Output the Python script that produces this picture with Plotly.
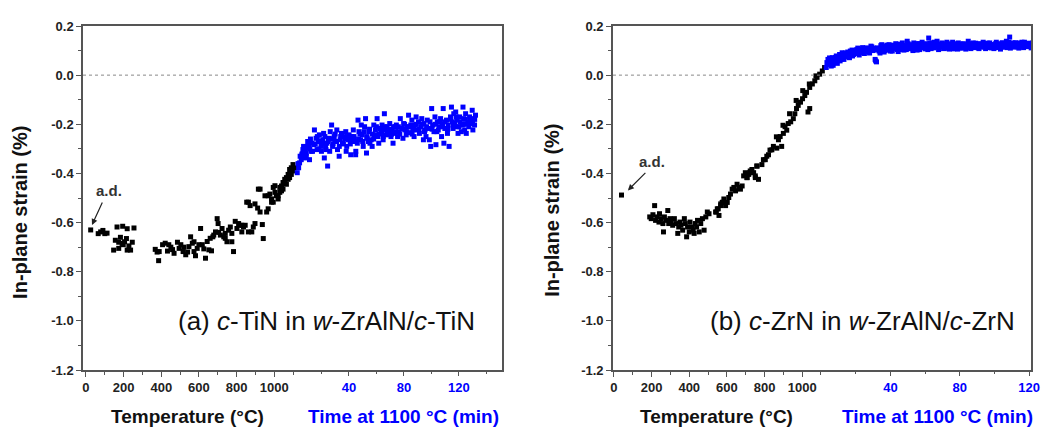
import plotly.graph_objects as go

# ---------------- data ----------------
# Panel (a): c-TiN in w-ZrAlN/c-TiN
a_temp_T = [25, 65, 78, 90, 100, 112,
            147, 156, 165, 174, 174, 183, 192, 195, 198, 205, 215, 219, 219, 228, 237, 246, 255,
            368, 378, 386, 389, 407, 421, 433, 440, 451, 460, 468, 486, 495, 504, 516, 520, 530, 540,
            547, 556, 565, 574, 574, 582, 591, 600, 609, 618, 626, 635, 644, 653, 660, 667, 674, 679,
            688, 697, 702, 705, 714, 723, 732, 740, 740, 749, 758, 767, 775, 775, 784, 793, 802, 811,
            819, 828, 828, 837, 846, 854, 863, 863, 872, 881, 889, 898, 898, 912, 916, 925, 925, 937,
            942, 951, 960, 968, 968, 977, 986, 986, 995, 995, 1004, 1004, 1012, 1021, 1021, 1030, 1030,
            1039, 1039, 1047, 1047, 1056, 1056, 1065, 1065, 1074, 1074, 1082, 1082, 1091, 1091, 1100,
            1100, 1109]
a_temp_S = [-0.630, -0.645, -0.638, -0.632, -0.645, -0.643,
            -0.712, -0.672, -0.618, -0.680, -0.705, -0.660, -0.685, -0.615, -0.690, -0.678, -0.665, -0.712, -0.625, -0.695, -0.712, -0.680, -0.622,
            -0.709, -0.720, -0.755, -0.718, -0.690, -0.684, -0.716, -0.690, -0.700, -0.710, -0.725, -0.680, -0.705, -0.690, -0.718, -0.700, -0.731, -0.720,
            -0.698, -0.658, -0.684, -0.718, -0.678, -0.735, -0.705, -0.690, -0.624, -0.690, -0.707, -0.745, -0.677, -0.711, -0.664, -0.715, -0.658, -0.651,
            -0.638, -0.584, -0.604, -0.640, -0.651, -0.624, -0.658, -0.644, -0.664, -0.678, -0.631, -0.618, -0.644, -0.678, -0.718, -0.595, -0.624, -0.604,
            -0.611, -0.638, -0.611, -0.618, -0.611, -0.517, -0.638, -0.517, -0.531, -0.638, -0.618, -0.604, -0.524, -0.541, -0.464, -0.557, -0.464, -0.608,
            -0.665, -0.491, -0.557, -0.544, -0.491, -0.484, -0.504, -0.517, -0.517, -0.457, -0.450, -0.477, -0.491, -0.504, -0.491, -0.457, -0.477,
            -0.471, -0.451, -0.437, -0.464, -0.424, -0.437, -0.417, -0.444, -0.404, -0.424, -0.384, -0.417, -0.377, -0.404, -0.364,
            -0.390, -0.377]

a_time_t = [2.4, 3.4, 4.1, 5.3, 5.8, 6.5, 7.7, 8.9, 9.6, 10.6, 11.3, 12.5, 13.0, 14.4, 14.9, 16.1, 16.8, 17.8,
            18.5, 19.7, 20.9, 21.6, 22.1, 23.3, 24.0, 24.5, 25.7, 26.4, 27.4, 28.1, 29.3, 29.8, 31.2, 31.7,
            32.9, 33.6, 34.6, 35.3, 36.5, 37.7, 38.4, 39.4, 40.1, 41.3, 42.5, 43.2, 43.7, 44.9, 46.1, 46.6,
            47.3, 48.5, 49.0, 49.7, 50.4, 51.4, 52.1, 52.8, 53.3, 54.5, 55.3, 56.2, 56.9, 58.1, 58.6, 59.3,
            60.5, 61.0, 61.7, 62.9, 63.7, 64.1, 64.9, 65.8, 66.5, 67.3, 67.7, 69.0, 69.7, 70.6, 71.3, 72.1,
            73.0, 73.8, 74.5, 75.4, 76.2, 77.4, 78.6, 79.3, 79.8, 81.0, 81.7, 82.6, 83.4, 84.1, 85.0, 85.8,
            86.5, 87.4, 88.2, 88.9, 89.8, 90.6, 91.3, 92.3, 93.0, 94.2, 94.6, 95.4, 96.1, 97.0, 97.8, 98.5,
            99.5, 100.2, 100.9, 101.9, 102.6, 103.3, 104.3, 105.0, 105.7, 106.7, 107.4, 108.1, 108.6, 109.1,
            109.8, 111.0, 111.7, 112.2, 112.9, 113.9, 114.6, 115.3, 115.8, 116.3, 117.0, 117.7, 118.7, 119.4,
            120.1, 120.6, 121.8, 122.5, 123.0, 123.5, 124.2, 124.9, 125.4, 126.6, 127.3, 127.8, 129.0, 129.7,
            130.2, 130.7, 131.4, 132.1,
            3.0, 4.5, 6.0, 7.0, 8.0, 9.0, 10.0, 11.5, 12.0, 13.5, 15.5, 17.0, 18.0, 19.0, 20.0, 21.0, 22.5,
            23.0, 25.0, 26.0, 27.0, 28.5, 30.0, 31.0, 33.0, 34.0, 36.0, 37.0, 38.0, 39.0, 41.0, 42.0, 44.0,
            45.0, 47.0, 48.0, 50.0, 51.0, 53.0, 54.0, 55.0, 57.0, 58.0, 60.0, 62.0, 63.0, 65.0, 66.0, 68.0,
            70.0, 71.0, 72.5, 74.0, 76.0, 77.0, 79.0, 80.5, 82.0, 84.0, 86.0, 87.0, 89.0, 91.0, 93.0, 95.0,
            96.5, 99.0, 100.5, 103.0, 104.0, 106.0, 108.0, 110.0, 112.0, 114.0, 116.0, 118.0, 119.0, 121.0,
            123.0, 124.5, 126.0, 128.0, 130.0, 131.5]
a_time_S = [-0.397, -0.377, -0.357, -0.344, -0.324, -0.303, -0.337, -0.317, -0.297, -0.290, -0.344, -0.310, -0.277, -0.283, -0.223, -0.257, -0.303, -0.270,
            -0.243, -0.290, -0.263, -0.237, -0.337, -0.303, -0.277, -0.370, -0.257, -0.230, -0.203, -0.290, -0.250, -0.270, -0.223, -0.303,
            -0.330, -0.263, -0.237, -0.277, -0.250, -0.230, -0.290, -0.263, -0.243, -0.324, -0.270, -0.223, -0.250, -0.324, -0.277, -0.183,
            -0.230, -0.263, -0.203, -0.243, -0.290, -0.210, -0.177, -0.317, -0.257, -0.230, -0.277, -0.263, -0.290, -0.203, -0.243, -0.223,
            -0.177, -0.250, -0.277, -0.217, -0.237, -0.203, -0.263, -0.157, -0.223, -0.243, -0.210, -0.230, -0.197, -0.250, -0.221, -0.277,
            -0.237, -0.210, -0.203, -0.250, -0.230, -0.177, -0.217, -0.257, -0.197, -0.223, -0.243, -0.210, -0.163, -0.234, -0.203, -0.183,
            -0.223, -0.250, -0.203, -0.170, -0.223, -0.190, -0.237, -0.210, -0.177, -0.263, -0.197, -0.223, -0.250, -0.183, -0.217, -0.263,
            -0.290, -0.136, -0.203, -0.230, -0.170, -0.283, -0.190, -0.223, -0.210, -0.177, -0.250, -0.197, -0.136, -0.277,
            -0.217, -0.183, -0.237, -0.203, -0.290, -0.170, -0.130, -0.190, -0.217, -0.157, -0.197, -0.150, -0.183, -0.237,
            -0.210, -0.170, -0.230, -0.203, -0.130, -0.177, -0.223, -0.157, -0.237, -0.190, -0.210, -0.170, -0.197, -0.143,
            -0.223, -0.177, -0.203, -0.163,
            -0.36, -0.33, -0.32, -0.29, -0.31, -0.33, -0.27, -0.30, -0.26, -0.31, -0.28, -0.25, -0.30, -0.27, -0.31, -0.28, -0.25,
            -0.29, -0.27, -0.31, -0.26, -0.28, -0.24, -0.27, -0.29, -0.25, -0.28, -0.26, -0.31, -0.25, -0.28, -0.25, -0.27,
            -0.31, -0.26, -0.24, -0.27, -0.23, -0.25, -0.27, -0.22, -0.24, -0.26, -0.21, -0.24, -0.22, -0.25, -0.21, -0.24,
            -0.22, -0.24, -0.21, -0.23, -0.21, -0.24, -0.22, -0.20, -0.23, -0.21, -0.24, -0.21, -0.20, -0.22, -0.20, -0.23,
            -0.21, -0.19, -0.22, -0.20, -0.23, -0.19, -0.21, -0.19, -0.22, -0.18, -0.20, -0.17, -0.21, -0.19,
            -0.20, -0.18, -0.20, -0.18, -0.19, -0.18]

# Panel (b): c-ZrN in w-ZrAlN/c-ZrN
b_temp_T = [40,
            190, 198, 207, 216, 221, 228, 239, 242, 251, 260, 263, 268, 277, 286, 291, 298, 304, 312, 321,
            330, 339, 344, 351, 356, 365, 374, 379, 386, 391, 400, 404, 414, 421, 426, 432, 439, 444, 453,
            461, 470, 479, 488, 496, 505,
            540, 544, 549, 554, 558, 567, 567, 575, 579, 584, 593, 602, 610, 619, 628, 637, 646, 654, 663,
            672, 681, 689, 698, 707, 707, 716, 721, 724, 733, 742, 751, 751, 759, 760, 768, 786, 794, 804,
            812, 821, 829, 839, 847, 863, 865, 874, 883, 891, 898, 900, 909, 918, 926, 933, 939, 953, 961,
            968, 970, 979, 991, 1002, 1003, 1014, 1023, 1031, 1038, 1040, 1040, 1054, 1067, 1073, 1079,
            1093, 1107, 1119]
b_temp_S = [-0.488,
            -0.577, -0.584, -0.568, -0.531, -0.591, -0.577, -0.598, -0.564, -0.584, -0.604, -0.638, -0.577, -0.591, -0.551, -0.604, -0.584, -0.598, -0.611, -0.584,
            -0.604, -0.644, -0.618, -0.598, -0.611, -0.631, -0.584, -0.604, -0.658, -0.618, -0.638, -0.598, -0.618, -0.631, -0.644, -0.604, -0.618, -0.591, -0.638,
            -0.604, -0.584, -0.631, -0.577, -0.557, -0.564,
            -0.557, -0.557, -0.544, -0.544, -0.571, -0.524, -0.531, -0.518, -0.517, -0.504, -0.531, -0.518, -0.498, -0.484, -0.464, -0.457, -0.471, -0.444, -0.457,
            -0.464, -0.451, -0.410, -0.397, -0.417, -0.417, -0.404, -0.397, -0.390, -0.384, -0.397, -0.410, -0.417, -0.370, -0.370, -0.424, -0.364, -0.344, -0.344,
            -0.330, -0.324, -0.305, -0.304, -0.290, -0.251, -0.297, -0.263, -0.250, -0.290, -0.204, -0.237, -0.210, -0.224, -0.197, -0.157, -0.190, -0.177, -0.157,
            -0.103, -0.136, -0.123, -0.110, -0.096, -0.063, -0.083, -0.070, -0.150, -0.036, -0.050, -0.136, -0.036, -0.023, -0.003, -0.009,
            0.004, 0.017, 0.031]

b_time_t = [3.0, 3.4, 4.0, 4.6, 5.3, 5.9, 6.5, 7.2, 7.8, 8.8, 9.1, 9.7, 10.7, 11.6, 12.2, 12.9, 13.5, 14.5,
            15.4, 16.4, 17.3, 17.9, 18.7, 19.8, 20.6, 21.7, 22.5, 23.6, 24.4, 25.5, 26.3, 27.4, 28.2, 29.3,
            30.7, 31.2, 32.0, 32.6, 33.5, 34.5, 35.4, 36.4, 37.3, 38.3, 39.2, 40.2, 41.1, 42.1, 43.1, 44.0,
            44.9, 45.9, 46.9, 47.8, 48.8, 49.7, 50.7, 51.6, 52.6, 53.5, 54.5, 55.4, 56.4, 57.3, 58.3, 59.2,
            60.2, 61.1, 62.1, 63.1, 64.0, 65.0, 65.9, 66.9, 67.8, 68.8, 69.7, 70.7, 71.6, 72.6, 73.5, 74.5,
            75.4, 76.4, 77.3, 78.3, 79.2, 80.2, 81.1, 82.1, 83.1, 84.0, 84.9, 85.9, 86.9, 87.8, 88.8, 89.7,
            90.7, 91.6, 92.6, 93.5, 94.5, 95.4, 96.4, 97.3, 98.3, 99.2, 100.2, 101.1, 102.1, 103.0, 104.0,
            104.9, 105.9, 106.9, 107.8, 108.8, 109.7, 110.7, 111.6, 112.6, 113.5, 114.5, 115.4, 116.4, 117.3,
            118.3, 119.3, 120.2, 121.2, 122.1,
            3.8, 4.9, 6.1, 7.0, 8.2, 9.4, 10.2, 11.0, 12.0, 13.2, 14.0, 15.0, 16.0, 16.9, 18.2, 19.2, 20.2,
            21.2, 22.0, 23.0, 24.0, 25.0, 26.0, 27.0, 28.0, 28.8, 29.8, 30.3, 31.5, 33.0, 34.0, 35.0, 36.0,
            37.0, 38.0, 39.0, 40.0, 41.6, 42.6, 43.6, 44.5, 45.4, 46.4, 47.3, 48.3, 49.2, 50.2, 51.1, 52.1,
            53.0, 54.0, 55.0, 55.9, 56.9, 57.8, 58.8, 59.7, 60.7, 61.6, 62.6, 63.5, 64.5, 65.4, 66.4, 67.3,
            68.3, 69.2, 70.2, 71.1, 72.1, 73.0, 74.0, 75.0, 75.9, 76.9, 77.8, 78.8, 79.7, 80.7, 81.6, 82.6,
            83.5, 84.5, 85.4, 86.4, 87.3, 88.3, 89.2, 90.2, 91.1, 92.1, 93.0, 94.0, 94.9, 95.9, 96.8, 97.8,
            98.7, 99.7, 100.7, 101.6, 102.6, 103.5, 104.5, 105.4, 106.4, 107.3, 108.3, 109.2, 110.2, 111.1,
            112.1, 113.0, 114.0, 114.9, 115.9, 116.8, 117.8, 118.8, 119.7, 120.7, 121.6]
b_time_S = [0.031, 0.051, 0.064, 0.044, 0.058, 0.037, 0.071, 0.051, 0.062, 0.078, 0.058, 0.067, 0.084, 0.064, 0.091, 0.075, 0.088, 0.080,
            0.094, 0.071, 0.091, 0.102, 0.084, 0.094, 0.104, 0.088, 0.098, 0.107, 0.091, 0.102, 0.111, 0.094, 0.104, 0.115,
            0.102, 0.064, 0.054, 0.111, 0.098, 0.120, 0.107, 0.094, 0.118, 0.104, 0.124, 0.111, 0.098, 0.118, 0.128, 0.104,
            0.120, 0.111, 0.131, 0.102, 0.120, 0.138, 0.115, 0.124, 0.107, 0.131, 0.118, 0.102, 0.128, 0.111, 0.134, 0.120,
            0.107, 0.124, 0.151, 0.118, 0.131, 0.111, 0.124, 0.138, 0.104, 0.120, 0.131, 0.115, 0.124, 0.134, 0.111, 0.120,
            0.128, 0.107, 0.124, 0.118, 0.131, 0.111, 0.120, 0.128, 0.115, 0.124, 0.138, 0.111, 0.120, 0.131, 0.118, 0.124,
            0.111, 0.128, 0.120, 0.134, 0.115, 0.124, 0.118, 0.131, 0.111, 0.124, 0.120, 0.134, 0.118, 0.128, 0.115,
            0.124, 0.120, 0.138, 0.124, 0.155, 0.118, 0.131, 0.120, 0.128, 0.115, 0.131, 0.124, 0.118, 0.134,
            0.120, 0.128, 0.124, 0.111, 0.131,
            0.045, 0.070, 0.055, 0.040, 0.072, 0.048, 0.070, 0.058, 0.080, 0.064, 0.090, 0.074, 0.085, 0.098, 0.078, 0.100, 0.088,
            0.110, 0.082, 0.096, 0.112, 0.088, 0.100, 0.108, 0.090, 0.118, 0.100, 0.110, 0.058, 0.104, 0.090, 0.124, 0.112,
            0.100, 0.122, 0.108, 0.098, 0.122, 0.108, 0.118, 0.096, 0.126, 0.104, 0.120, 0.112, 0.104, 0.128, 0.108, 0.118,
            0.100, 0.122, 0.112, 0.128, 0.104, 0.120, 0.112, 0.128, 0.115, 0.104, 0.130, 0.108, 0.122, 0.134, 0.114, 0.126,
            0.108, 0.122, 0.128, 0.108, 0.118, 0.126, 0.106, 0.118, 0.134, 0.114, 0.128, 0.106, 0.122, 0.126, 0.110, 0.122,
            0.106, 0.118, 0.128, 0.108, 0.124, 0.112, 0.130, 0.120, 0.108, 0.126, 0.114, 0.124, 0.108, 0.130, 0.112, 0.124,
            0.118, 0.108, 0.128, 0.112, 0.124, 0.106, 0.132, 0.114, 0.126, 0.112, 0.134, 0.110, 0.126, 0.114,
            0.132, 0.120, 0.110, 0.126, 0.134, 0.112, 0.126, 0.116, 0.130, 0.118, 0.112]

temp_ticks = [0, 200, 400, 600, 800, 1000]
temp_minor = [100, 300, 500, 700, 900, 1100]
time_ticks = [40, 80, 120]
time_minor = [20, 60, 100, 140]
y_ticks = [0.2, 0.0, -0.2, -0.4, -0.6, -0.8, -1.0, -1.2]
y_ticktext = ["0.2", "0.0", "-0.2", "-0.4", "-0.6", "-0.8", "-1.0", "-1.2"]

panel_a_label = "(a) <i>c</i>-TiN in <i>w</i>-ZrAlN/<i>c</i>-TiN"
panel_b_label = "(b) <i>c</i>-ZrN in <i>w</i>-ZrAlN/<i>c</i>-ZrN"

# ---------------- figure ----------------
FONT = "Liberation Sans, Arial, sans-serif"
BLUE = "#0000ff"
AX = "#555555"

fig = go.Figure()
mk = dict(symbol="square", size=5, line=dict(width=0))
fig.add_trace(go.Scatter(x=a_temp_T, y=a_temp_S, mode="markers", xaxis="x", yaxis="y",
                         marker=dict(color="black", **mk), showlegend=False))
fig.add_trace(go.Scatter(x=a_time_t, y=a_time_S, mode="markers", xaxis="x2", yaxis="y",
                         marker=dict(color=BLUE, **mk), showlegend=False))
fig.add_trace(go.Scatter(x=b_temp_T, y=b_temp_S, mode="markers", xaxis="x3", yaxis="y2",
                         marker=dict(color="black", **mk), showlegend=False))
fig.add_trace(go.Scatter(x=b_time_t, y=b_time_S, mode="markers", xaxis="x4", yaxis="y2",
                         marker=dict(color=BLUE, **mk), showlegend=False))

# the page body has an 8 px margin, so the figure sits at (8, 8) in the window
OFF = 8
W, H = 1043, 422
L, R, T, B = 75, 11, 13, 60
PW = W - L - R
PH = H - T - B


def px2paper_x(px):  # px: window coordinate
    return (px - OFF - L) / PW


def px2paper_y(py):
    return (H - B - (py - OFF)) / PH


dom_a = [0, px2paper_x(506)]
dom_b = [px2paper_x(618), 1]

tickfont_k = dict(family=FONT, size=13, color="#222222", weight="bold")
tickfont_b = dict(family=FONT, size=13, color=BLUE, weight="bold")


def temp_axis(domain, rng, anchor):
    return dict(domain=domain, range=rng, anchor=anchor, tickmode="array", tickvals=temp_ticks,
                ticks="outside", ticklen=5, tickwidth=1.2, tickcolor=AX,
                showline=True, linecolor=AX, linewidth=1.5, mirror=True,
                showgrid=False, zeroline=False, tickfont=tickfont_k,
                minor=dict(tickmode="array", tickvals=temp_minor, ticks="outside", ticklen=3,
                           tickwidth=1.2, tickcolor=AX, showgrid=False))


def time_axis(over, rng, anchor):
    return dict(overlaying=over, range=rng, anchor=anchor, side="bottom", tickmode="array",
                tickvals=time_ticks, ticks="outside", ticklen=5, tickwidth=1.2, tickcolor=AX,
                showline=False, showgrid=False, zeroline=False, tickfont=tickfont_b,
                minor=dict(tickmode="array", tickvals=time_minor, ticks="outside", ticklen=3,
                           tickwidth=1.2, tickcolor=AX, showgrid=False))


def y_axis(anchor):
    return dict(domain=[0, 1], range=[-1.2, 0.2], anchor=anchor, tickmode="array",
                tickvals=y_ticks, ticktext=y_ticktext, ticks="outside", ticklen=5, tickwidth=1.2,
                tickcolor=AX, showline=True, linecolor=AX, linewidth=1.5, mirror=True,
                showgrid=False, zeroline=False, tickfont=tickfont_k,
                minor=dict(dtick=0.1, tick0=0, ticks="outside", ticklen=3, tickwidth=1.2,
                           tickcolor=AX, showgrid=False))


fig.update_layout(
    width=W, height=H,
    margin=dict(l=L, r=R, t=T, b=B, pad=0),
    paper_bgcolor="white", plot_bgcolor="white",
    font=dict(family=FONT),
    xaxis=temp_axis(dom_a, [-15.8, 2210.5], "y"),
    xaxis2=time_axis("x", [-153.5, 151.4], "y"),
    xaxis3=temp_axis(dom_b, [-5.3, 2215.8], "y2"),
    xaxis4=time_axis("x3", [-120.0, 121.1], "y2"),
    yaxis=y_axis("x"),
    yaxis2=y_axis("x3"),
)

# dotted zero lines
for xr, yr in [("x domain", "y"), ("x3 domain", "y2")]:
    fig.add_shape(type="line", xref=xr, yref=yr, x0=0, x1=1, y0=0, y1=0,
                  line=dict(color="#888888", width=1, dash="dot"))

ann = []
title_font = dict(family=FONT, size=19, color="#111111", weight="bold")
# y titles
for px, py in [(20, 210), (557, 208)]:
    ann.append(dict(text="In-plane strain (%)", xref="paper", yref="paper",
                    x=px2paper_x(px), y=px2paper_y(py), textangle=-90, showarrow=False,
                    xanchor="center", yanchor="middle",
                    font=dict(family=FONT, size=20, color="#111111", weight="bold")))
# x titles
for px in [188, 723]:
    ann.append(dict(text="Temperature (°C)", xref="paper", yref="paper",
                    x=px2paper_x(px), y=px2paper_y(417), showarrow=False,
                    xanchor="center", yanchor="middle", font=title_font))
for px in [407, 946]:
    ann.append(dict(text="Time at 1100 °C (min)", xref="paper", yref="paper",
                    x=px2paper_x(px), y=px2paper_y(417), showarrow=False,
                    xanchor="center", yanchor="middle",
                    font=dict(family=FONT, size=19, color=BLUE, weight="bold")))
# panel labels
for txt, px in [(panel_a_label, 329), (panel_b_label, 870)]:
    ann.append(dict(text=txt, xref="paper", yref="paper", x=px2paper_x(px), y=px2paper_y(320),
                    showarrow=False, xanchor="center", yanchor="middle",
                    font=dict(family=FONT, size=26, color="#111111")))
# a.d. labels
for px, py in [(109, 188), (657, 158)]:
    ann.append(dict(text="a.d.", xref="paper", yref="paper", x=px2paper_x(px), y=px2paper_y(py),
                    showarrow=False, xanchor="center", yanchor="middle",
                    font=dict(family=FONT, size=15, color="#333333", weight="bold")))
# arrows
ann.append(dict(text="", xref="x", yref="y", x=32, y=-0.61, ax=11, ay=-24, showarrow=True,
                arrowhead=2, arrowsize=1, arrowwidth=1.2, arrowcolor="#222222"))
ann.append(dict(text="", xref="x3", yref="y2", x=74, y=-0.469, ax=19, ay=-19, showarrow=True,
                arrowhead=2, arrowsize=1, arrowwidth=1.2, arrowcolor="#222222"))

fig.update_layout(annotations=ann)
fig.write_html("out.html")
